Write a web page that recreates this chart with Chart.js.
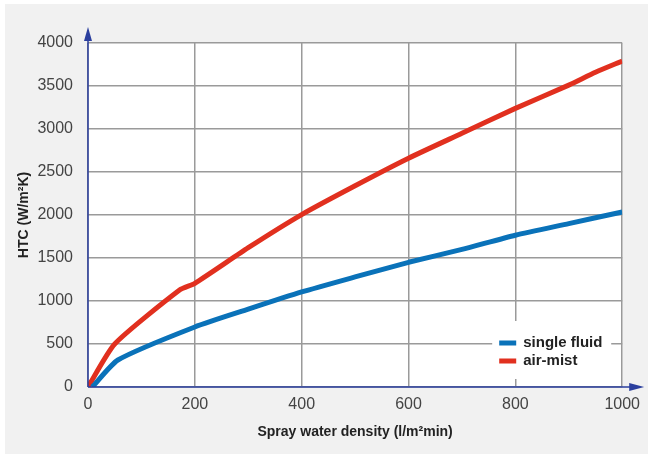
<!DOCTYPE html>
<html>
<head>
<meta charset="utf-8">
<script src="https://cdn.jsdelivr.net/npm/chart.js@4"></script>
<style>
  html, body { margin: 0; padding: 0; background: #fff; }
  canvas { display: block; }
</style>
</head>
<body>
<canvas id="grafico" width="648" height="454"></canvas>
<script>
// dados
const densidadeSingle = [8, 56, 200, 300, 400, 500, 600, 700, 800, 900, 1000];
const htcSingle = [0, 314, 698, 905, 1105, 1280, 1450, 1600, 1765, 1900, 2035];

const densidadeAirMist = [0, 50, 172, 200, 300, 400, 500, 600, 700, 800, 900, 950, 1000];
const htcAirMist = [0, 500, 1130, 1206, 1620, 2005, 2340, 2660, 2950, 3240, 3510, 3660, 3790];

const rotulos = ['single fluid', 'air-mist'];
const cores = ['#0a72b9', '#e1301f'];

const xMin = 0, xMax = 1000, xPasso = 200;
const yMin = 0, yMax = 4000, yPasso = 500;

const corEixo = '#2b3f9e';

// junta x e y em pontos
function pontos(xs, ys) {
    return xs.map((x, i) => ({ x: x, y: ys[i] }));
}

// fundo cinza e area branca do grafico
const fundo = {
    id: 'fundo',
    beforeDraw(chart) {
        const ctx = chart.ctx;
        const a = chart.chartArea;
        ctx.save();
        ctx.fillStyle = '#ffffff';
        ctx.fillRect(0, 0, chart.width, chart.height);
        ctx.fillStyle = '#f1f1f1';
        ctx.fillRect(5, 4, chart.width - 5, chart.height - 4);
        ctx.fillStyle = '#ffffff';
        ctx.fillRect(a.left, a.top, a.right - a.left, a.bottom - a.top);
        ctx.restore();
    }
};

// eixos azuis com setas
const eixos = {
    id: 'eixos',
    afterDatasetsDraw(chart) {
        const ctx = chart.ctx;
        const a = chart.chartArea;
        ctx.save();
        ctx.strokeStyle = corEixo;
        ctx.fillStyle = corEixo;
        ctx.lineWidth = 1.5;
        ctx.beginPath();
        ctx.moveTo(a.left, a.bottom);
        ctx.lineTo(a.left, a.top - 4);
        ctx.moveTo(a.left, a.bottom);
        ctx.lineTo(a.right + 10, a.bottom);
        ctx.stroke();
        // seta de cima
        ctx.beginPath();
        ctx.moveTo(a.left, a.top - 16);
        ctx.lineTo(a.left - 4, a.top - 2);
        ctx.lineTo(a.left + 4, a.top - 2);
        ctx.closePath();
        ctx.fill();
        // seta da direita
        ctx.beginPath();
        ctx.moveTo(a.right + 22, a.bottom);
        ctx.lineTo(a.right + 7, a.bottom - 4);
        ctx.lineTo(a.right + 7, a.bottom + 4);
        ctx.closePath();
        ctx.fill();
        ctx.restore();
    }
};

// legenda dentro do grafico, em baixo a direita
const legenda = {
    id: 'legenda',
    afterDatasetsDraw(chart) {
        const ctx = chart.ctx;
        const a = chart.chartArea;
        const x0 = a.right - 130;
        const y0 = a.bottom - 66;
        ctx.save();
        ctx.fillStyle = '#ffffff';
        ctx.fillRect(x0, y0, 119, 58);
        ctx.font = 'bold 15px "Liberation Sans", Arial, sans-serif';
        ctx.textBaseline = 'middle';
        chart.data.datasets.forEach((ds, i) => {
            const cy = y0 + 22 + i * 18;
            ctx.fillStyle = ds.borderColor;
            ctx.fillRect(x0 + 7, cy - 2.5, 17, 5);
            ctx.fillStyle = '#222222';
            ctx.fillText(ds.label, x0 + 31, cy);
        });
        ctx.restore();
    }
};

const fonteTicks = { family: '"Liberation Sans", Arial, sans-serif', size: 16 };
const fonteTitulo = { family: '"Liberation Sans", Arial, sans-serif', size: 14, weight: 'bold' };

const ctxGrafico = document.getElementById('grafico').getContext('2d');
new Chart(ctxGrafico, {
    type: 'line',
    data: {
        datasets: [
            {
                label: rotulos[0],
                data: pontos(densidadeSingle, htcSingle),
                borderColor: cores[0],
                borderWidth: 5,
                borderJoinStyle: 'round',
                pointRadius: 0,
                tension: 0.2,
                fill: false
            },
            {
                label: rotulos[1],
                data: pontos(densidadeAirMist, htcAirMist),
                borderColor: cores[1],
                borderWidth: 5,
                borderJoinStyle: 'round',
                pointRadius: 0,
                tension: 0.2,
                fill: false
            }
        ]
    },
    options: {
        responsive: false,
        animation: false,
        layout: { padding: { top: 43, right: 25, left: 0, bottom: 0 } },
        plugins: {
            legend: { display: false },
            tooltip: { enabled: false }
        },
        scales: {
            x: {
                type: 'linear',
                min: xMin,
                max: xMax,
                afterFit: s => { s.height = 67; },
                border: { display: false },
                grid: { color: '#9a9a9a', lineWidth: 1.5, drawTicks: false },
                ticks: {
                    stepSize: xPasso,
                    padding: 8,
                    color: '#444444',
                    font: fonteTicks,
                    callback: v => String(v)
                },
                title: {
                    display: true,
                    text: 'Spray water density (l/m²min)',
                    color: '#222222',
                    padding: { top: 0, bottom: 13 },
                    font: fonteTitulo
                }
            },
            y: {
                min: yMin,
                max: yMax,
                afterFit: s => { s.width = 88; },
                border: { display: false },
                grid: { color: '#9a9a9a', lineWidth: 1.5, drawTicks: false },
                ticks: {
                    stepSize: yPasso,
                    padding: 15,
                    color: '#444444',
                    font: fonteTicks,
                    callback: v => String(v)
                },
                title: {
                    display: true,
                    text: 'HTC (W/m²K)',
                    color: '#222222',
                    padding: { top: 16, bottom: 0 },
                    font: fonteTitulo
                }
            }
        }
    },
    plugins: [fundo, eixos, legenda]
});
</script>
</body>
</html>
